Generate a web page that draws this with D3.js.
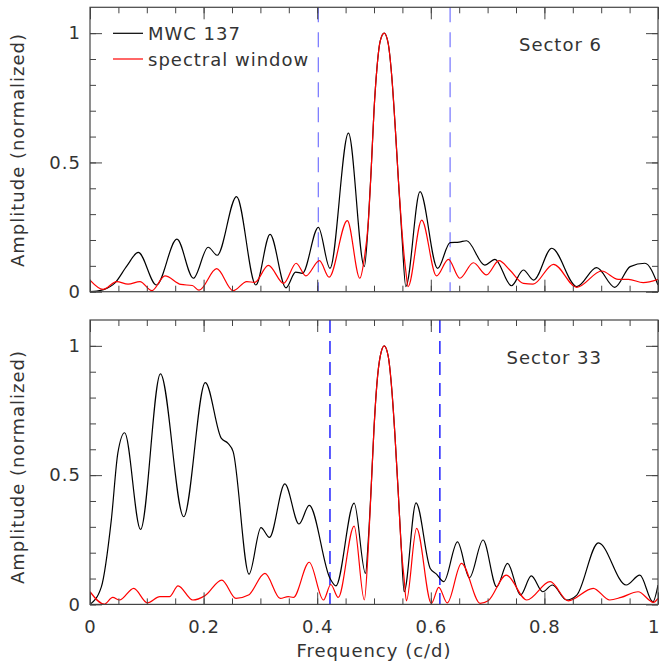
<!DOCTYPE html>
<html>
<head>
<meta charset="utf-8">
<script src="https://cdn.jsdelivr.net/npm/d3@7"></script>
<style>
  body { margin: 0; background: #fff; }
  text { font-family: "DejaVu Sans", sans-serif; fill: #333; }
</style>
</head>
<body>
<div id="chart"></div>
<script>
// Sector 6: amplitude spectrum of MWC 137 and spectral window, [freq, amp]
const mwc6 = [
  [0.000, 0.000], [0.012, 0.002], [0.024, 0.008], [0.044, 0.034], [0.065, 0.100],
  [0.085, 0.152], [0.117, 0.026], [0.153, 0.203], [0.182, 0.052], [0.208, 0.172],
  [0.224, 0.141], [0.258, 0.368], [0.292, 0.026], [0.317, 0.222], [0.345, 0.015],
  [0.362, 0.076], [0.374, 0.071], [0.402, 0.249], [0.4225, 0.090], [0.455, 0.613],
  [0.483, 0.097], [0.490, 0.270], [0.495, 0.470], [0.500, 0.700], [0.505, 0.860],
  [0.511, 0.970], [0.518, 1.000], [0.525, 0.960], [0.531, 0.840], [0.537, 0.650],
  [0.543, 0.430], [0.549, 0.220], [0.556, 0.020], [0.581, 0.387], [0.612, 0.090],
  [0.634, 0.190], [0.650, 0.192], [0.663, 0.197], [0.695, 0.103], [0.713, 0.125],
  [0.742, 0.023], [0.763, 0.084], [0.781, 0.045], [0.813, 0.168], [0.857, 0.020],
  [0.892, 0.093], [0.924, 0.017], [0.951, 0.097], [0.977, 0.110], [1.000, 0.026]
];
const window6 = [
  [0.000, 0.045], [0.023, 0.009], [0.047, 0.039], [0.067, 0.029], [0.088, 0.039],
  [0.109, 0.004], [0.132, 0.061], [0.160, 0.028], [0.180, 0.024], [0.192, 0.006],
  [0.223, 0.089], [0.252, 0.004], [0.276, 0.039], [0.290, 0.036], [0.314, 0.102],
  [0.341, 0.032], [0.363, 0.110], [0.380, 0.061], [0.404, 0.120], [0.421, 0.056],
  [0.453, 0.275], [0.475, 0.052], [0.483, 0.130], [0.490, 0.270], [0.495, 0.470],
  [0.500, 0.700], [0.505, 0.860], [0.511, 0.970], [0.518, 1.000], [0.525, 0.960],
  [0.531, 0.840], [0.537, 0.650], [0.543, 0.430], [0.549, 0.240], [0.556, 0.080],
  [0.560, 0.020], [0.584, 0.277], [0.610, 0.061], [0.631, 0.125], [0.651, 0.052],
  [0.675, 0.112], [0.698, 0.065], [0.720, 0.120], [0.739, 0.084], [0.763, 0.032],
  [0.780, 0.029], [0.816, 0.106], [0.857, 0.017], [0.901, 0.080], [0.930, 0.048],
  [0.948, 0.048], [0.974, 0.035], [1.000, 0.048]
];

// Sector 33
const mwc33 = [
  [0.000, 0.000], [0.020, 0.068], [0.0375, 0.326], [0.049, 0.585], [0.061, 0.664],
  [0.089, 0.290], [0.124, 0.892], [0.165, 0.339], [0.203, 0.858], [0.231, 0.643],
  [0.243, 0.623], [0.252, 0.591], [0.280, 0.117], [0.301, 0.297], [0.316, 0.259],
  [0.343, 0.466], [0.368, 0.311], [0.386, 0.383], [0.4225, 0.101], [0.433, 0.072],
  [0.465, 0.392], [0.485, 0.120], [0.490, 0.250], [0.495, 0.450], [0.500, 0.680],
  [0.505, 0.850], [0.511, 0.960], [0.518, 1.000], [0.525, 0.960], [0.531, 0.840],
  [0.537, 0.650], [0.543, 0.420], [0.548, 0.220], [0.553, 0.049], [0.574, 0.393],
  [0.599, 0.139], [0.610, 0.117], [0.623, 0.088], [0.647, 0.242], [0.668, 0.103],
  [0.692, 0.249], [0.716, 0.068], [0.735, 0.159], [0.758, 0.036], [0.777, 0.110],
  [0.797, 0.049], [0.814, 0.075], [0.839, 0.017], [0.857, 0.036], [0.895, 0.238],
  [0.944, 0.075], [0.968, 0.113], [0.991, 0.010], [1.000, 0.075]
];
const window33 = [
  [0.000, 0.049], [0.025, 0.001], [0.040, 0.027], [0.052, 0.017], [0.077, 0.062],
  [0.101, 0.006], [0.123, 0.030], [0.140, 0.030], [0.155, 0.072], [0.181, 0.017],
  [0.202, 0.033], [0.232, 0.094], [0.257, 0.023], [0.279, 0.036], [0.308, 0.120],
  [0.335, 0.023], [0.349, 0.030], [0.358, 0.027], [0.386, 0.163], [0.411, 0.017],
  [0.424, 0.077], [0.437, 0.027], [0.465, 0.303], [0.483, 0.017], [0.490, 0.220],
  [0.495, 0.450], [0.500, 0.680], [0.505, 0.850], [0.511, 0.960], [0.518, 1.000],
  [0.525, 0.960], [0.531, 0.840], [0.537, 0.650], [0.543, 0.420], [0.548, 0.220],
  [0.553, 0.100], [0.557, 0.014], [0.575, 0.294], [0.601, 0.004], [0.614, 0.066],
  [0.629, 0.006], [0.654, 0.159], [0.687, 0.004], [0.701, 0.014], [0.733, 0.113],
  [0.769, 0.017], [0.810, 0.088], [0.842, 0.014], [0.886, 0.062], [0.915, 0.017],
  [0.935, 0.027], [0.965, 0.049], [0.992, 0.008], [1.000, 0.023]
];

// frequency limits (blue dashed)
const limits6 = [0.402, 0.634];
const limits33 = [0.4225, 0.616];

const xMinor = d3.range(0, 1.0001, 0.05);
const xMajor = [0, 0.2, 0.4, 0.6, 0.8, 1];
const yMinor = d3.range(0, 1.0001, 0.1);
const yMajor = [0, 0.5, 1];

const W = 660, H = 664;
const left = 90, plotW = 568, plotH = 284.4;

const svg = d3.select('#chart').append('svg')
    .attr('width', W)
    .attr('height', H);

const x = d3.scaleLinear().domain([0, 1]).range([left, left + plotW]);

function drawPanel(top, spec, win, limits, limitColor, limitDash, sector, showX, labelY) {
    const y = d3.scaleLinear().domain([0, 1.1]).range([top + plotH, top]);
    const g = svg.append('g');
    const id = 'clip' + Math.round(top);

    g.append('clipPath').attr('id', id)
        .append('rect')
        .attr('x', left).attr('y', top)
        .attr('width', plotW).attr('height', plotH);

    const line = d3.line()
        .x(d => x(d[0]))
        .y(d => y(d[1]))
        .curve(d3.curveMonotoneX);

    // window limits
    g.selectAll('.lim')
        .data(limits)
        .enter()
        .append('line')
        .attr('x1', d => x(d)).attr('x2', d => x(d))
        .attr('y1', top).attr('y2', top + plotH)
        .attr('stroke', limitColor)
        .attr('stroke-width', 1.3)
        .attr('stroke-dasharray', limitDash);

    const curves = g.append('g').attr('clip-path', `url(#${id})`);
    curves.append('path').datum(spec)
        .attr('d', line).attr('fill', 'none')
        .attr('stroke', '#000').attr('stroke-width', 1.2);
    curves.append('path').datum(win)
        .attr('d', line).attr('fill', 'none')
        .attr('stroke', '#ff0000').attr('stroke-width', 1.2);

    // axes, ticks pointing inward
    const axStyle = sel => {
        sel.select('.domain').remove();
        sel.selectAll('line').attr('stroke', '#444');
        sel.selectAll('text').attr('font-size', '18px').attr('letter-spacing', '1px')
            .attr('fill', '#333').style('font-family', '"DejaVu Sans", sans-serif');
    };
    const xLabels = g.append('g').attr('transform', `translate(0,${top + plotH})`)
        .call(d3.axisBottom(x).tickValues(xMajor).tickSize(-12).tickPadding(16)
            .tickFormat(showX ? d3.format('') : ''))
        .call(axStyle);
    // last label sits at the right edge of the page
    xLabels.selectAll('text').filter(d => d === 1)
        .attr('text-anchor', 'end').attr('letter-spacing', '0').attr('dx', '1');
    g.append('g').attr('transform', `translate(0,${top + plotH})`)
        .call(d3.axisBottom(x).tickValues(xMinor).tickSize(-6).tickFormat(''))
        .call(axStyle);
    g.append('g').attr('transform', `translate(0,${top})`)
        .call(d3.axisTop(x).tickValues(xMinor).tickSize(-6).tickFormat(''))
        .call(axStyle);
    g.append('g').attr('transform', `translate(0,${top})`)
        .call(d3.axisTop(x).tickValues(xMajor).tickSize(-12).tickFormat(''))
        .call(axStyle);
    g.append('g').attr('transform', `translate(${left},0)`)
        .call(d3.axisLeft(y).tickValues(yMinor).tickSize(-6).tickFormat(''))
        .call(axStyle);
    g.append('g').attr('transform', `translate(${left},0)`)
        .call(d3.axisLeft(y).tickValues(yMajor).tickSize(-12).tickPadding(9)
            .tickFormat(d3.format('')))
        .call(axStyle);
    g.append('g').attr('transform', `translate(${left + plotW},0)`)
        .call(d3.axisRight(y).tickValues(yMinor).tickSize(-6).tickFormat(''))
        .call(axStyle);
    g.append('g').attr('transform', `translate(${left + plotW},0)`)
        .call(d3.axisRight(y).tickValues(yMajor).tickSize(-12).tickFormat(''))
        .call(axStyle);

    // frame
    g.append('rect')
        .attr('x', left).attr('y', top)
        .attr('width', plotW).attr('height', plotH)
        .attr('fill', 'none').attr('stroke', '#444').attr('stroke-width', 1.2);

    g.append('text')
        .attr('x', 602).attr('y', top + 44)
        .attr('text-anchor', 'end')
        .attr('font-size', '18px').attr('letter-spacing', '1px')
        .text(sector);

    g.append('text')
        .attr('transform', `translate(24,${labelY}) rotate(-90)`)
        .attr('text-anchor', 'middle')
        .attr('font-size', '18px').attr('letter-spacing', '1px')
        .text('Amplitude (normalized)');

    return y;
}

drawPanel(7.3, mwc6, window6, limits6, '#7f7fff', '15,10', 'Sector 6', false, 150);
drawPanel(320, mwc33, window33, limits33, '#0000ff', '13,8', 'Sector 33', true, 467);

// legend
const legend = [
    { label: 'MWC 137', color: '#000', y: 33.3 },
    { label: 'spectral window', color: '#ff0000', y: 59 }
];
const lg = svg.append('g');
lg.selectAll('line')
    .data(legend)
    .enter()
    .append('line')
    .attr('x1', 113).attr('x2', 143)
    .attr('y1', d => d.y).attr('y2', d => d.y)
    .attr('stroke', d => d.color).attr('stroke-width', 1.2);
lg.selectAll('text')
    .data(legend)
    .enter()
    .append('text')
    .attr('x', 148).attr('y', d => d.y + 7)
    .attr('font-size', '18px').attr('letter-spacing', '1px')
    .text(d => d.label);

svg.append('text')
    .attr('x', 374).attr('y', 657)
    .attr('text-anchor', 'middle')
    .attr('font-size', '18px').attr('letter-spacing', '1px')
    .text('Frequency (c/d)');
</script>
</body>
</html>
